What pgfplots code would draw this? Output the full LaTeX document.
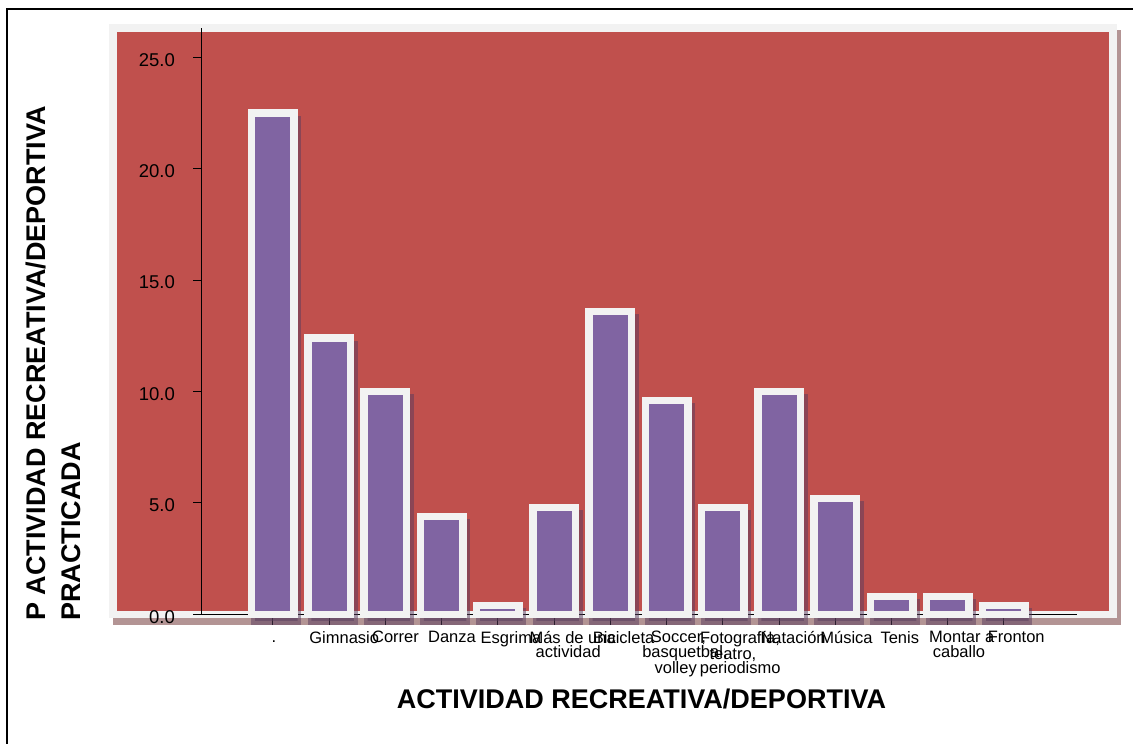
\documentclass[border=0pt]{standalone}
\usepackage{pgfplots}
\pgfplotsset{compat=1.18}
\usepackage{fontspec}
\setmainfont{Liberation Sans}

\definecolor{plotred}{HTML}{C0504D}
\definecolor{barpurple}{HTML}{8064A2}
\definecolor{frameedge}{HTML}{F2F2F2}
\definecolor{boxshadow}{HTML}{B39494}
\definecolor{barshadow}{RGB}{88,60,93}

% each category label line starts a bit left of its tick and runs to the right
\newcommand{\tl}[1]{\makebox[0.57\width][l]{\vphantom{G}#1}}

% percentage of students per activity
\pgfplotstableread{
idx pct
0  22.5
1  12.4
2  10.0
3  4.4
4  0.4
5  4.8
6  13.6
7  9.6
8  4.8
9  10.0
10 5.2
11 0.8
12 0.8
13 0.4
}\actividades

\begin{document}
\begin{tikzpicture}[x=1pt,y=1pt]
\path[use as bounding box] (0,0) rectangle (1133,-744);
% page frame
\draw[line width=1.5pt] (7,-744) -- (7,-9) -- (1133,-9);
% plot area with its drop shadow
\fill[boxshadow] (112.5,-30) rectangle (1120.5,-624.5);
\fill[frameedge] (109,-24) rectangle (1117,-618);
\fill[plotred] (117,-32) rectangle (1108.5,-610.5);

\begin{axis}[
  at={(109pt,-24pt)}, anchor=north west,
  scale only axis, width=1008pt, height=594pt,
  xmin=-2.9166, xmax=15.010, ymin=-0.166, ymax=26.494,
  clip=false,
  axis line style={draw=none},
  tick style={draw=none},
  xtick={0,...,13},
  xticklabels={\tl{.}, \tl{Gimnasio}, \tl{Correr}, \tl{Danza}, \tl{Esgrima},
    {\tl{Más de una}\\\tl{actividad}}, \tl{Bicicleta},
    {\tl{Soccer,}\\\tl{basquetbal,}\\\tl{volley}},
    {\tl{Fotografía,}\\\tl{teatro,}\\\tl{periodismo}},
    \tl{Natación}, \tl{Música}, \tl{Tenis}, {\tl{Montar a}\\\tl{caballo}},
    \tl{Fronton}},
  xticklabel style={align=center, inner sep=0pt, yshift=-13pt,
    font=\fontsize{16.5}{14.5}\selectfont},
  ytick={0,5,...,25},
  /pgf/number format/assume math mode=true,
  yticklabel style={/pgf/number format/fixed, /pgf/number format/fixed zerofill,
    /pgf/number format/precision=1, anchor=east, inner sep=0pt,
    xshift=66pt, yshift=-2.5pt, font=\fontsize{18.5}{22}\selectfont},
]
% axis lines and tick marks
\draw[line width=1pt] (axis cs:-1.4227,0) -- (axis cs:14.298,0);
\draw[line width=1pt] (axis cs:-1.2627,0) -- (axis cs:-1.2627,26.315);
\pgfplotsinvokeforeach{0,5,...,25}{
  \draw[line width=1pt] (axis cs:-1.4227,#1) -- (axis cs:-1.2627,#1);
}
\pgfplotsinvokeforeach{0,...,13}{
  \draw[line width=1pt] (axis cs:#1,0) -- (axis cs:#1,-0.47);
}
% bar shadows
\addplot[ybar, bar shift=0pt, bar width=42.5pt, fill=barshadow, draw=barshadow,
  line width=7.5pt, opacity=0.5, xshift=3.5pt, yshift=-6.5pt, forget plot]
  table[x=idx, y=pct] {\actividades};
% bars
\addplot[ybar, bar shift=0pt, bar width=42.5pt, fill=barpurple, draw=frameedge,
  line width=7.5pt]
  table[x=idx, y=pct] {\actividades};
\end{axis}

% axis titles
\node[font=\fontsize{27}{30}\selectfont\bfseries] at (641.5,-699)
  {ACTIVIDAD RECREATIVA/DEPORTIVA};
\node[rotate=90, anchor=north west, align=left, inner sep=0pt,
  font=\fontsize{27}{35}\selectfont\bfseries] at (26,-621)
  {P ACTIVIDAD RECREATIVA/DEPORTIVA\\PRACTICADA};
\end{tikzpicture}
\end{document}
